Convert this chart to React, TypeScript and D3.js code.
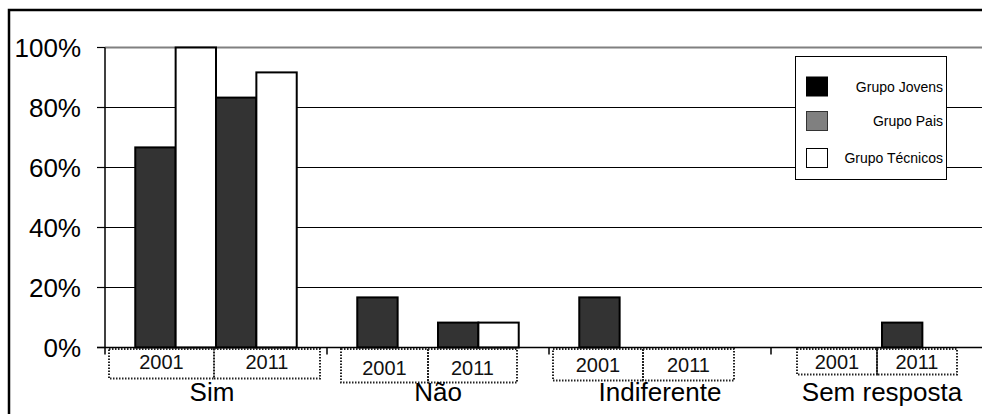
import React from "react";
import * as d3 from "d3";

const categories = ["Sim", "Não", "Indiferente", "Sem resposta"];
const years = ["2001", "2011"];
const seriesKeys = ["Jovens 2001", "Técnicos 2001", "Jovens 2011", "Técnicos 2011"];
const jovens2001 = [0.667, 0.167, 0.167, 0];
const tecnicos2001 = [1.0, 0, 0, 0];
const jovens2011 = [0.833, 0.083, 0, 0.083];
const tecnicos2011 = [0.917, 0.083, 0, 0];
const seriesValues = [jovens2001, tecnicos2001, jovens2011, tecnicos2011];
const seriesFill = ["#333333", "#ffffff", "#333333", "#ffffff"];
const yTicks = [0, 0.2, 0.4, 0.6, 0.8, 1.0];
const legendLabels = ["Grupo Jovens", "Grupo Pais", "Grupo Técnicos"];
const legendFill = ["#000000", "#808080", "#ffffff"];

// hand-placed year text boxes (offsets from category start, px): left, mid, right, boxBottom, textBaseline (relative to axis)
const yearBoxLayout = [
  [4, 109, 215, 31, 21],
  [14, 101, 190, 35, 27],
  [4, 94, 185, 33, 24],
  [26, 106, 186, 27, 21],
];

const W = 982;
const H = 414;
const FONT = "'Liberation Sans', Arial, sans-serif";

export default function App() {
  const x0 = 105;
  const catW = 222;
  const yTop = 47.5;
  const yBot = 347.5;
  const x = d3.scaleBand<string>().domain(categories).range([x0, x0 + catW * categories.length]).padding(0);
  const xs = d3.scaleBand<string>().domain(seriesKeys).range([0, x.bandwidth()]).paddingInner(0).paddingOuter(0.75);
  const y = d3.scaleLinear().domain([0, 1]).range([yBot, yTop]);
  const fmt = d3.format(".0%");

  return (
    <svg width={W} height={H} style={{ position: "absolute", left: 0, top: 0, background: "#fff" }} fontFamily={FONT}>
      <rect x={0} y={0} width={W} height={H} fill="#fff" />
      {/* gridlines */}
      {yTicks.map((t) => (
        <g key={t}>
          {t > 0 && (
            <line x1={x0} x2={W} y1={y(t)} y2={y(t)} stroke={t === 1 ? "#808080" : "#000"} strokeWidth={t === 1 ? 2 : 1} />
          )}
          <line x1={97} x2={x0} y1={y(t)} y2={y(t)} stroke="#000" strokeWidth={1.2} />
          <text x={81} y={y(t) + 9.5} textAnchor="end" fontSize={26} fill="#000">
            {fmt(t)}
          </text>
        </g>
      ))}
      {/* bars */}
      {categories.map((c, ci) =>
        seriesKeys.map((s, si) => {
          const v = seriesValues[si][ci];
          if (!v) return null;
          const bx = (x(c) as number) + (xs(s) as number);
          return (
            <rect
              key={c + s}
              x={bx}
              y={y(v)}
              width={xs.bandwidth()}
              height={y(0) - y(v)}
              fill={seriesFill[si]}
              stroke="#000"
              strokeWidth={2}
            />
          );
        })
      )}
      {/* axes */}
      <line x1={97} x2={W} y1={yBot} y2={yBot} stroke="#000" strokeWidth={1.5} />
      <line x1={x0} x2={x0} y1={yTop} y2={yBot + 7} stroke="#000" strokeWidth={1.5} />
      {categories.map((c, ci) =>
        ci > 0 ? <line key={"t" + c} x1={x(c)} x2={x(c)} y1={yBot} y2={yBot + 7} stroke="#000" strokeWidth={1.5} /> : null
      )}
      {/* year boxes */}
      {categories.map((c, ci) => {
        const [l, m, r, bb, tb] = yearBoxLayout[ci];
        const cx = x(c) as number;
        const edges = [cx + l, cx + m, cx + r];
        return (
          <g key={"yb" + c}>
            {years.map((yr, yi) => (
              <g key={yr}>
                <rect
                  x={edges[yi]}
                  y={yBot + 1.5}
                  width={edges[yi + 1] - edges[yi]}
                  height={bb - 1.5}
                  fill="none"
                  stroke="#222"
                  strokeWidth={2}
                  strokeDasharray="1.5 1.5"
                />
                <text x={(edges[yi] + edges[yi + 1]) / 2} y={yBot + tb} textAnchor="middle" fontSize={20} fill="#111">
                  {yr}
                </text>
              </g>
            ))}
            <text x={cx + x.bandwidth() / 2 - (ci === 0 ? 4 : 0)} y={401} textAnchor="middle" fontSize={26} fill="#000">
              {c}
            </text>
          </g>
        );
      })}
      {/* legend */}
      <g>
        <rect x={795.5} y={56.5} width={151} height={123} fill="#fff" stroke="#000" strokeWidth={1} />
        {legendLabels.map((lab, i) => {
          const rowY = [86.5, 121, 158][i];
          return (
            <g key={lab}>
              <rect x={806.5} y={rowY - 9.5} width={21} height={19} fill={legendFill[i]} stroke={i === 1 ? "#333" : "#000"} strokeWidth={1} />
              <text x={943} y={rowY + 5} textAnchor="end" fontSize={14} fill="#000">
                {lab}
              </text>
            </g>
          );
        })}
      </g>
      {/* outer frame */}
      <rect x={9} y={10} width={W + 20} height={H + 20} fill="none" stroke="#000" strokeWidth={2.5} />
    </svg>
  );
}
